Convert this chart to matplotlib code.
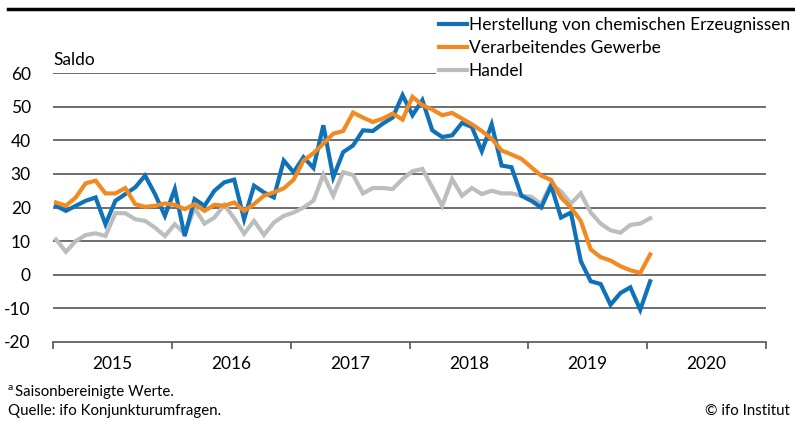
import numpy as np
import matplotlib.pyplot as plt

plt.rcParams['font.family'] = ['Lato', 'DejaVu Sans']

# monthly values, Jan 2015 .. Jan 2020
chemie = [20.5, 19, 20.5, 22, 23, 15, 22, 24, 26, 29.5, 24, 17.5,
          25.5, 11.5, 22.5, 20.5, 25, 27.5, 28.3, 16.5, 26.5, 24.5, 23, 34,
          30.5, 35, 31.8, 44.5, 29, 36.5, 38.5, 43, 42.8, 45, 46.8, 53.5,
          47.5, 52, 43, 41, 41.5, 45.2, 44, 36.8, 44.8, 32.5, 32, 23.5,
          22, 20, 26.5, 17, 18.5, 4, -2, -2.8, -9, -5.5, -3.8, -10.5,
          -2]
gewerbe = [21.5, 20.5, 23, 27.2, 28, 24.2, 24.2, 25.8, 21, 20.2, 20.5, 21.2,
           20.8, 19.5, 21, 19, 20.8, 20.5, 21.5, 19, 21, 23.5, 24.5, 25.7,
           28.3, 34, 36.2, 39, 42, 42.8, 48.3, 46.8, 45.5, 46.5, 48, 46.2,
           53, 50.5, 49.2, 47.5, 48.2, 46.5, 44.8, 42.8, 40.5, 37, 35.8, 34.5,
           32, 29.5, 28.2, 23, 20, 16, 7.5, 5.2, 4.2, 2.5, 1.3, 0.5,
           6]
handel = [10.5, 6.8, 10, 11.8, 12.3, 11.5, 18.3, 18.3, 16.5, 16, 14, 11.5,
          15, 12.2, 19.8, 15.2, 17, 20.8, 16.8, 12.2, 16, 11.8, 15.5, 17.5,
          18.5, 20, 22, 29.8, 23.5, 30.5, 29.7, 24.2, 25.8, 25.8, 25.5, 28.5,
          30.8, 31.5, 26, 20.5, 28.5, 23.5, 25.8, 24, 25, 24.2, 24.2, 23.5,
          23.2, 21, 27, 24.8, 21.2, 24.2, 18.5, 15.2, 13.2, 12.5, 14.8, 15.2,
          16.8]
labels = ['Herstellung von chemischen Erzeugnissen', 'Verarbeitendes Gewerbe', 'Handel']
years = [2015, 2016, 2017, 2018, 2019, 2020]

x = 2015 + (np.arange(len(chemie)) + 0.3) / 12

fig = plt.figure(figsize=(7.95, 4.21), dpi=100)
ax = fig.add_axes([53/795, 1-341.7/421, 713/795, 268.4/421])

for v in range(-10, 70, 10):
    ax.axhline(v, color='#555555', lw=1.2, zorder=1)

ax.plot(x, chemie, color='#0f72b8', lw=3.0, label=labels[0], zorder=3, solid_joinstyle='miter')
ax.plot(x, gewerbe, color='#f28a22', lw=3.0, label=labels[1], zorder=4, solid_joinstyle='miter')
ax.plot(x, handel, color='#bcbdbd', lw=3.0, label=labels[2], zorder=2, solid_joinstyle='miter')

ax.set_xlim(2015, 2021)
ax.set_ylim(-20, 60)
for s in ['top', 'right', 'left']:
    ax.spines[s].set_visible(False)
ax.spines['bottom'].set_color('#555555')
ax.spines['bottom'].set_linewidth(1.2)

ax.set_xticks(np.arange(2015, 2022))
ax.set_xticklabels([])
ax.set_xticks(np.array(years) + 0.5, minor=True)
ax.set_xticklabels([str(y) for y in years], minor=True, fontsize=12.5)
ax.tick_params(axis='x', which='major', direction='out', length=5, width=1.2, color='#555555')
ax.tick_params(axis='x', which='minor', length=0, pad=10)
ax.set_yticks(range(-20, 70, 10))
ax.set_yticklabels([str(v) for v in range(-20, 70, 10)], fontsize=12.5)
ax.tick_params(axis='y', length=0, pad=16)

ax.text(0.0, 61.5, 'Saldo', fontsize=12.5, va='bottom', ha='left',
        transform=ax.get_yaxis_transform())

leg = ax.legend(loc='upper right', bbox_to_anchor=(802/795, 1-5/421), bbox_transform=fig.transFigure,
                fontsize=12.5, frameon=True, framealpha=1, facecolor='white', edgecolor='none',
                handlelength=1.6, handletextpad=0.1, labelspacing=0.4, borderpad=0.2, fancybox=False)
for h in leg.get_lines():
    h.set_linewidth(3.0)

fig.add_artist(plt.Line2D([8/795, 1], [1-9/421, 1-9/421], color='black', lw=2.5))

fig.text(8/795, 1-392/421, 'a', fontsize=7.5, va='bottom')
fig.text(15/795, 1-392/421, 'Saisonbereinigte Werte.', fontsize=10.8, va='center')
fig.text(8/795, 1-411/421, 'Quelle: ifo Konjunkturumfragen.', fontsize=10.8, va='center')
fig.text(790/795, 1-411/421, '© ifo Institut', fontsize=10.8, va='center', ha='right')

fig.savefig('out.png', dpi=100)
